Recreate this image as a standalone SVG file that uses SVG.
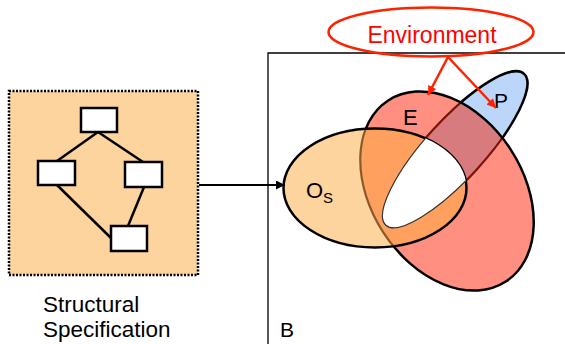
<svg xmlns="http://www.w3.org/2000/svg" width="565" height="344" viewBox="0 0 565 344">
<style>
text{font-family:"Liberation Sans",Arial,sans-serif;fill:#000}
.nodeRect{fill:#fff;stroke:#000;stroke-width:2.5}
.edge{stroke:#000;stroke-width:2.5;fill:none}
.red{stroke:#FF2200;stroke-width:2.5;fill:none}
</style>
<defs>
<marker id="ah" viewBox="0 0 10 10" refX="10" refY="5" markerWidth="10" markerHeight="9" markerUnits="userSpaceOnUse" orient="auto"><path d="M0,0 L10,5 L0,10 z" fill="#000"/></marker>
<marker id="rh" viewBox="0 0 10 10" refX="10" refY="5" markerWidth="10" markerHeight="9" markerUnits="userSpaceOnUse" orient="auto"><path d="M0,0 L10,5 L0,10 z" fill="#FF2200"/></marker>
<ellipse id="shE" cx="447" cy="191" rx="108" ry="76" transform="rotate(57 447 191)"/>
<ellipse id="shP" cx="455" cy="149.5" rx="102.5" ry="29.5" transform="rotate(-47.6 455 149.5)"/>
<ellipse id="shO" cx="375" cy="188" rx="91.5" ry="59.5"/>
<clipPath id="clipE"><use href="#shE"/></clipPath>
<clipPath id="clipO"><use href="#shO"/></clipPath>
</defs>

<g id="structural-spec">
<rect x="9" y="91" width="189" height="184" fill="#FDD39E" stroke="#000" stroke-width="2.5" stroke-dasharray="2,1.5"/>
<g class="edge">
<line x1="98" y1="132" x2="57" y2="161"/>
<line x1="98" y1="132" x2="143" y2="162"/>
<line x1="57" y1="185" x2="111" y2="238"/>
<line x1="144" y1="187" x2="128" y2="226"/>
</g>
<rect class="nodeRect" x="81" y="108" width="36" height="24"/>
<rect class="nodeRect" x="38" y="161" width="37" height="24"/>
<rect class="nodeRect" x="125" y="162" width="37" height="25"/>
<rect class="nodeRect" x="111" y="226" width="36" height="25"/>
<text x="43" y="312" font-size="22.5">Structural</text>
<text x="43" y="337" font-size="22.5">Specification</text>
</g>

<g id="frame-B">
<path d="M268,344 V53 H565" fill="none" stroke="#000" stroke-width="1.3"/>
<text x="280" y="337" font-size="21">B</text>
</g>

<g id="set-P">
<use href="#shP" fill="#BCD6FA" stroke="#000" stroke-width="2.5"/>
</g>

<g id="set-E">
<use href="#shE" fill="#FF8F80"/>
<g clip-path="url(#clipE)">
<use href="#shP" fill="#D87B7E" stroke="#7A1508" stroke-width="2.2"/>
</g>
<use href="#shE" fill="none" stroke="#000" stroke-width="2.5"/>
</g>

<g id="set-Os">
<use href="#shO" fill="#FDD39E"/>
<g clip-path="url(#clipO)">
<use href="#shE" fill="#FFA05F" stroke="#8A5A28" stroke-width="2.2"/>
</g>
<use href="#shO" fill="none" stroke="#000" stroke-width="2.5"/>
<g clip-path="url(#clipO)">
<use href="#shP" fill="#fff" stroke="#333" stroke-width="1.2"/>
</g>
</g>

<g id="labels">
<text x="403" y="125" font-size="22">E</text>
<text x="494" y="108" font-size="21">P</text>
<text x="306" y="198" font-size="22">O</text>
<text x="323" y="203" font-size="15">S</text>
</g>

<g id="environment">
<ellipse cx="431" cy="32" rx="102.5" ry="24.5" fill="#fff" class="red"/>
<text x="432" y="43" font-size="23" text-anchor="middle" style="fill:#FF0000">Environment</text>
</g>

<g id="connectors">
<line x1="199" y1="185" x2="285" y2="185" stroke="#000" stroke-width="2.2" marker-end="url(#ah)"/>
<line x1="448" y1="57" x2="428" y2="95" class="red" marker-end="url(#rh)"/>
<line x1="448" y1="57" x2="496" y2="108" class="red" marker-end="url(#rh)"/>
</g>
</svg>
